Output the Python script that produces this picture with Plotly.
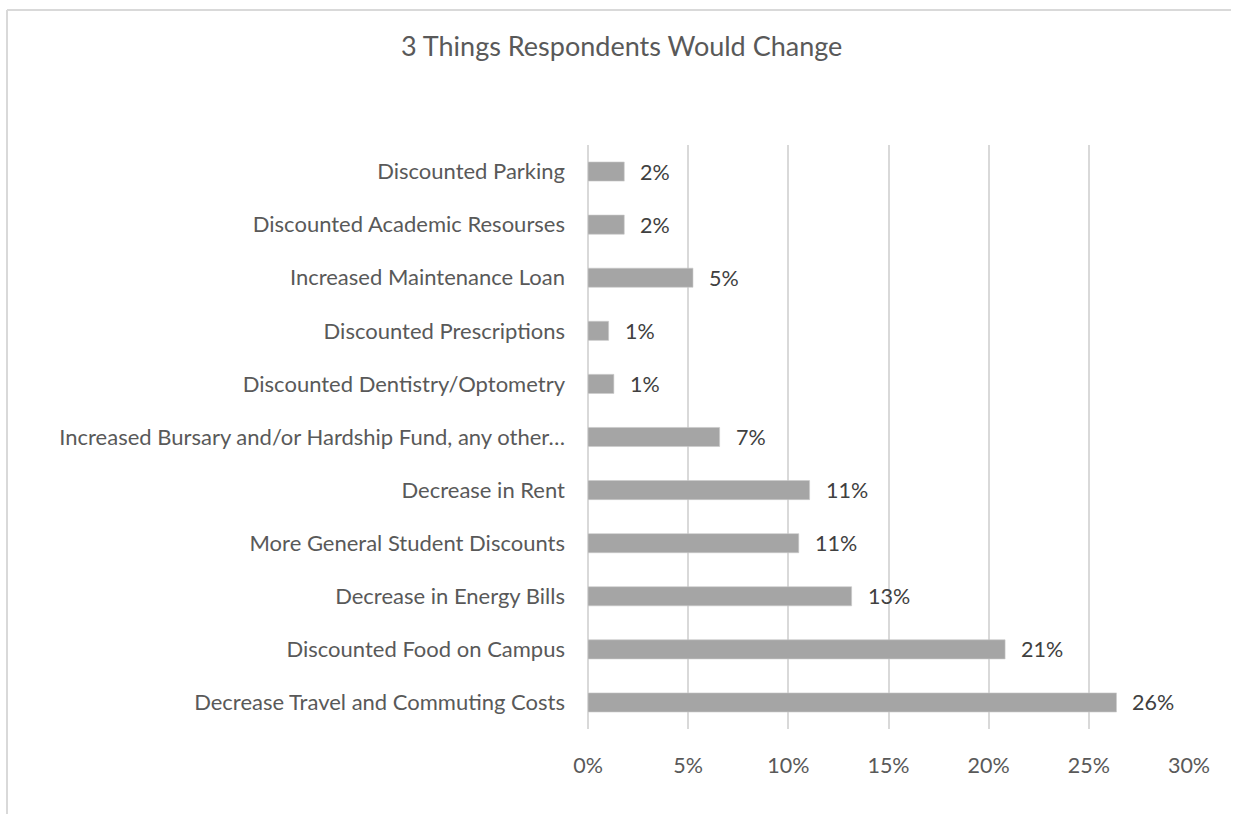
import plotly.graph_objects as go

# Share of respondents choosing each change (bottom to top)
categories = [
    "Decrease Travel and Commuting Costs",
    "Discounted Food on Campus",
    "Decrease in Energy Bills",
    "More General Student Discounts",
    "Decrease in Rent",
    "Increased Bursary and/or Hardship Fund, any other…",
    "Discounted Dentistry/Optometry",
    "Discounted Prescriptions",
    "Increased Maintenance Loan",
    "Discounted Academic Resourses",
    "Discounted Parking",
]
shares = [0.2638, 0.2082, 0.1316, 0.1052, 0.1106, 0.0657, 0.0129, 0.0103, 0.0524, 0.0181, 0.0181]

x_ticks = [0, 0.05, 0.10, 0.15, 0.20, 0.25, 0.30]

FONT = "Lato, Open Sans, sans-serif"
W, H = 1234, 814
L, R, T, B = 588, 44, 145, 85

fig = go.Figure(
    go.Bar(
        x=shares,
        y=categories,
        orientation="h",
        marker=dict(color="#a5a5a5", line=dict(color="#c9c9c9", width=0.6)),
        width=0.36,
        hoverinfo="x+y",
    )
)

# value labels to the right of each bar
for cat, v in zip(categories, shares):
    fig.add_annotation(
        x=v, y=cat, xref="x", yref="y",
        text=f"{v:.0%}", showarrow=False,
        xanchor="left", yanchor="middle", xshift=14,
        font=dict(family=FONT, size=21.5, color="#404040"),
    )

# chart-area frame: left edge and top edge
pw, ph = W - L - R, H - T - B
fx0 = (7 - L) / pw
fx1 = (W - 3 - L) / pw
fy1 = (H - B - 10) / ph
fy0 = -B / ph
fig.add_shape(type="line", xref="paper", yref="paper",
              x0=fx0, x1=fx0, y0=fy1, y1=fy0,
              line=dict(color="#d9d9d9", width=2))
fig.add_shape(type="line", xref="paper", yref="paper",
              x0=fx0, x1=fx1, y0=fy1, y1=fy1,
              line=dict(color="#d9d9d9", width=2))

fig.update_layout(
    width=W, height=H,
    margin=dict(l=L, r=R, t=T, b=B),
    paper_bgcolor="white",
    plot_bgcolor="white",
    showlegend=False,
    title=dict(
        text="3 Things Respondents Would Change",
        xref="container", yref="container",
        x=621.7 / W, y=1 - 47 / H,
        xanchor="center", yanchor="middle",
        font=dict(family=FONT, size=27, color="#595959"),
    ),
    font=dict(family=FONT, size=22, color="#595959"),
)

fig.update_xaxes(
    range=[0, 0.3005],
    tickvals=x_ticks,
    tickformat=".0%",
    showgrid=True, gridcolor="#d9d9d9", gridwidth=2,
    zeroline=True, zerolinecolor="#d9d9d9", zerolinewidth=2,
    showline=False, ticks="",
    ticklabelstandoff=21,
    tickfont=dict(family=FONT, size=21.5, color="#595959"),
    fixedrange=True,
)
fig.update_yaxes(
    type="category",
    categoryorder="array", categoryarray=categories,
    showgrid=False, zeroline=False, showline=False, ticks="",
    ticklabelstandoff=22,
    tickfont=dict(family=FONT, size=22, color="#595959"),
    fixedrange=True,
)

fig.write_html("out.html", config={"displayModeBar": False})
